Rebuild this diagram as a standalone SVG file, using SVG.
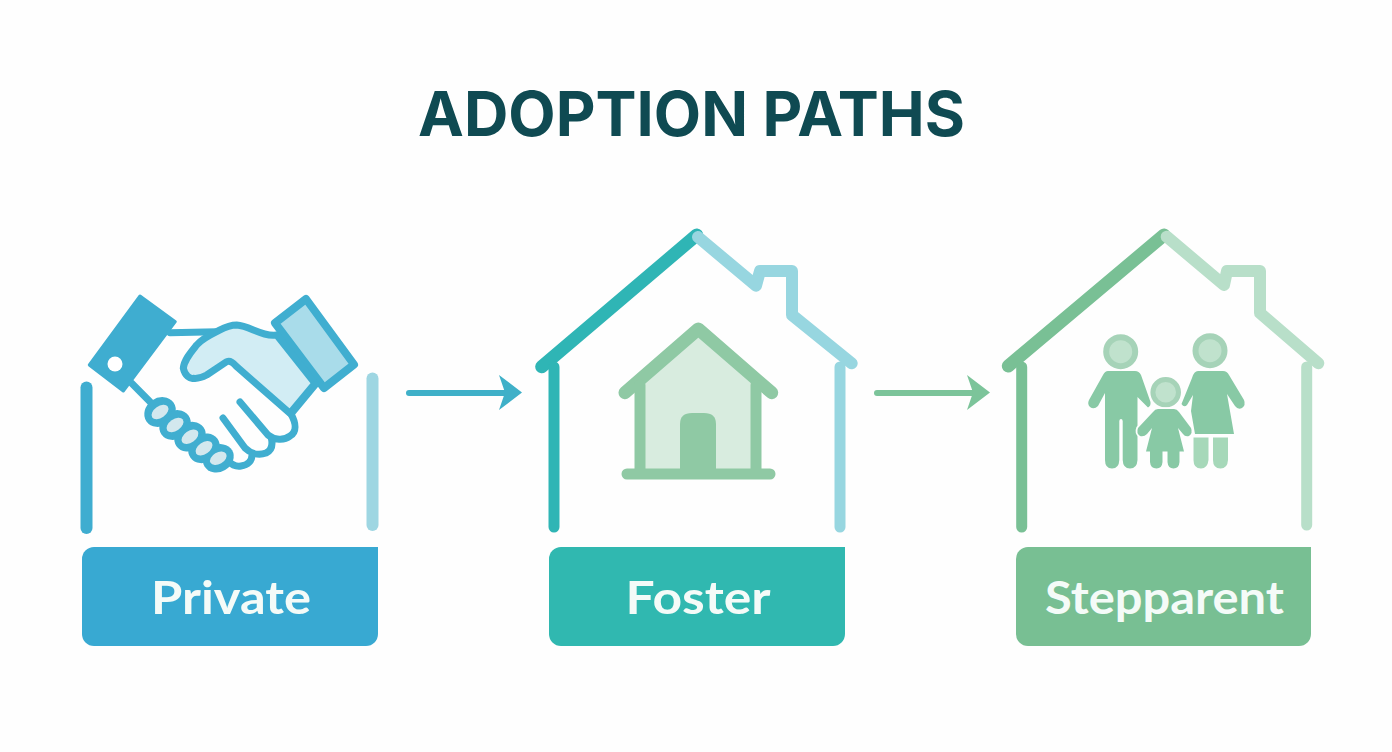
<svg xmlns="http://www.w3.org/2000/svg" width="1392" height="752" viewBox="0 0 1392 752">
<style>
.s{fill:none;stroke-linecap:round;stroke-linejoin:round}
.lbl{font-family:"Lato","Liberation Sans",sans-serif;font-weight:700;font-size:46px;fill:#f4fbf8;text-anchor:middle}
.title{font-family:"Inter","Liberation Sans",sans-serif;font-weight:700;font-size:62px;fill:#0f4a52;text-anchor:middle}
.blue{stroke:#3fadd0}.lblue{stroke:#9ed6e2}.teal{stroke:#2fb5b5}.ltl{stroke:#97d6e0}.grn{stroke:#79c095}.lgrn{stroke:#b8dfc9}
.hs{stroke:#40aed0;stroke-width:7}
.w{stroke-width:11}
.r{stroke-width:13}
.m{stroke-width:12}
.p{fill:#88c9a5}
.pl{fill:#a6d8b9}
.ph{fill:#c0e2cd;stroke:#a6d3b8;stroke-width:6}
</style>
<rect width="1392" height="752" fill="#fefefe"/>
<text id="title" class="title" x="691.500" y="135.500" textLength="547" lengthAdjust="spacingAndGlyphs">ADOPTION PATHS</text>

<g id="connectors">
<path d="M409 393H505" fill="none" stroke="#3fb0c8" stroke-width="6" stroke-linecap="round"/>
<path d="M499 375L522 392.500L499 410L505 392.500Z" fill="#3fb0c8"/>
<path d="M877 393H973" fill="none" stroke="#7cc49a" stroke-width="6" stroke-linecap="round"/>
<path d="M967 375L990 392.500L967 410L973 392.500Z" fill="#7cc49a"/>
</g>

<g id="private">
<path class="s blue m" d="M86.500 387.500V528"/>
<path class="s lblue m" d="M372.500 378.500V525"/>
<path d="M140 296L175.300 321.700L123.300 391L89.300 365Z" fill="#3fadd0" stroke="#3fadd0" stroke-width="3" stroke-linejoin="round"/>
<circle cx="115" cy="364" r="7.500" fill="#fff"/>
<path d="M275 323L306 299L354 364.500L324 388Z" fill="#a9dcea" stroke="#40aed0" stroke-width="8" stroke-linejoin="round"/>
<path class="s hs" d="M170 332.700L216.700 331.700M131.700 383.300L150 401.700"/>
<path d="M276.700 335C262 337 250 326 236.700 325C228 325 222 329 216.700 331.700C208 336 202 339 196.700 345C191 352 184 360 183.300 368.300C185 376 190 379 193.300 378.300C199 379 203 377 206.700 375L226.700 361.700C231 360 234 364 236.700 366.700L290 413.300L315 383.300Z" fill="#d2edf4" stroke="#40aed0" stroke-width="7" stroke-linejoin="round"/>
<path class="s hs" d="M315 385L291 414M291 414C296 423 297 432 290 436C284 441 274 440 268 435L240 402M271 437C273 444 272 450 266 453C258 456 250 453 245 448L223 418M252 455C252 461 248 465 241 466C235 467 231 464 228 461"/>
<g fill="#40aed0">
<ellipse cx="160" cy="412" rx="16.500" ry="14" transform="rotate(-35 160 412)"/>
<ellipse cx="175" cy="425" rx="16.500" ry="14" transform="rotate(-35 175 425)"/>
<ellipse cx="190" cy="436.700" rx="16.500" ry="14" transform="rotate(-35 190 436.700)"/>
<ellipse cx="204" cy="448.300" rx="16.500" ry="14" transform="rotate(-35 204 448.300)"/>
<ellipse cx="218.300" cy="458.300" rx="16" ry="13.500" transform="rotate(-30 218.300 458.300)"/>
</g>
<g fill="#d3e8ee">
<ellipse cx="160" cy="412" rx="9.500" ry="5.800" transform="rotate(-35 160 412)"/>
<ellipse cx="175" cy="425" rx="9.500" ry="5.800" transform="rotate(-35 175 425)"/>
<ellipse cx="190" cy="436.700" rx="9.500" ry="5.800" transform="rotate(-35 190 436.700)"/>
<ellipse cx="204" cy="448.300" rx="9.500" ry="5.800" transform="rotate(-35 204 448.300)"/>
<ellipse cx="218.300" cy="458.300" rx="9" ry="5.800" transform="rotate(-30 218.300 458.300)"/>
</g>
<path d="M82 559a12 12 0 0 1 12-12H378V634a12 12 0 0 1-12 12H94a12 12 0 0 1-12-12Z" fill="#38a9d2"/>
<text class="lbl" x="231" y="614" textLength="160" lengthAdjust="spacingAndGlyphs">Private</text>
</g>

<g id="foster">
<path class="s teal r" d="M696.700 235L541.700 366.700"/>
<path class="s teal w" d="M554 367V527"/>
<path class="s ltl m" d="M698 237L756 285.700L760 271H792V315L851.700 363.300"/>
<path class="s ltl w" d="M840 367V527"/>
<path d="M698 335L640 385V474H756V385Z" fill="#d8ecdf"/>
<path class="s r" stroke="#8fc9a4" d="M625 392.700L698.300 329L771.700 392.700"/>
<path class="s w" stroke="#8fc9a4" d="M640 385V474M756 385V474M627 474H770"/>
<path d="M680 474V424q0-11 12-11h12q12 0 12 11V474Z" fill="#8fc9a4"/>
<path d="M549 559a12 12 0 0 1 12-12H845V634a12 12 0 0 1-12 12H561a12 12 0 0 1-12-12Z" fill="#30b8b0"/>
<text class="lbl" x="698" y="614" textLength="145" lengthAdjust="spacingAndGlyphs">Foster</text>
</g>

<g id="stepparent">
<path class="s grn r" d="M1164 235L1008.300 366"/>
<path class="s grn w" d="M1021.700 367V527"/>
<path class="s lgrn m" d="M1166.700 236.700L1224 285L1227 271H1260V313L1318.300 363.300"/>
<path class="s lgrn w" d="M1306.700 367V525"/>
<circle class="ph" cx="1120.700" cy="351.700" r="14.500"/>
<circle class="ph" cx="1210" cy="350.700" r="14.500"/>
<path class="p" d="M1108 371H1135Q1139 371 1141 375L1150.500 402Q1151 406 1148 407.500L1137.500 397V460Q1137 468.500 1130 468.500Q1123 468.500 1122.700 460V421Q1122.500 419 1121 419Q1119.500 419 1119.300 421V460Q1119 468.500 1112 468.500Q1105 468.500 1105 460V393L1098 406Q1094 410 1090 407Q1087 404 1089 400L1103 375Q1105 371 1108 371Z"/>
<path class="p" d="M1198 371H1223Q1227 371 1229 375L1244 400Q1246 405 1242 408Q1238 410 1235 406L1227 394L1234 434H1195L1191 411L1193 395L1187 405Q1184 408 1181.500 404L1192 378Q1194 371 1198 371Z"/>
<path class="pl" d="M1193.500 437.500H1208.500V460Q1207.500 468.500 1201 468.500Q1193.500 468.500 1193.500 460ZM1213 437.500H1228V460Q1227.500 468.500 1220.500 468.500Q1213 468.500 1213 460Z"/>
<circle cx="1165.700" cy="392.300" r="12.800" fill="#c0e2cd" stroke="#a6d3b8" stroke-width="5"/>
<path class="p" stroke="#fefefe" stroke-width="3.500" paint-order="stroke" d="M1158 409H1174Q1177 409 1179 412L1191 428Q1193 433 1189 436Q1185 437 1183 434L1178 428L1184 451.500H1179.500V462Q1179 468.500 1173.500 468.500Q1168 468.500 1167.500 462V451.500H1162.500V462Q1162 468.500 1156.500 468.500Q1150.500 468.500 1150 462V451.500H1146L1152 428L1147 434Q1144 437 1140 436Q1136 433 1138 428L1153 412Q1155 409 1158 409Z"/>
<path d="M1016 559a12 12 0 0 1 12-12H1311V634a12 12 0 0 1-12 12H1028a12 12 0 0 1-12-12Z" fill="#78bf93"/>
<text class="lbl" x="1164.500" y="614" textLength="239" lengthAdjust="spacingAndGlyphs">Stepparent</text>
</g>
</svg>
